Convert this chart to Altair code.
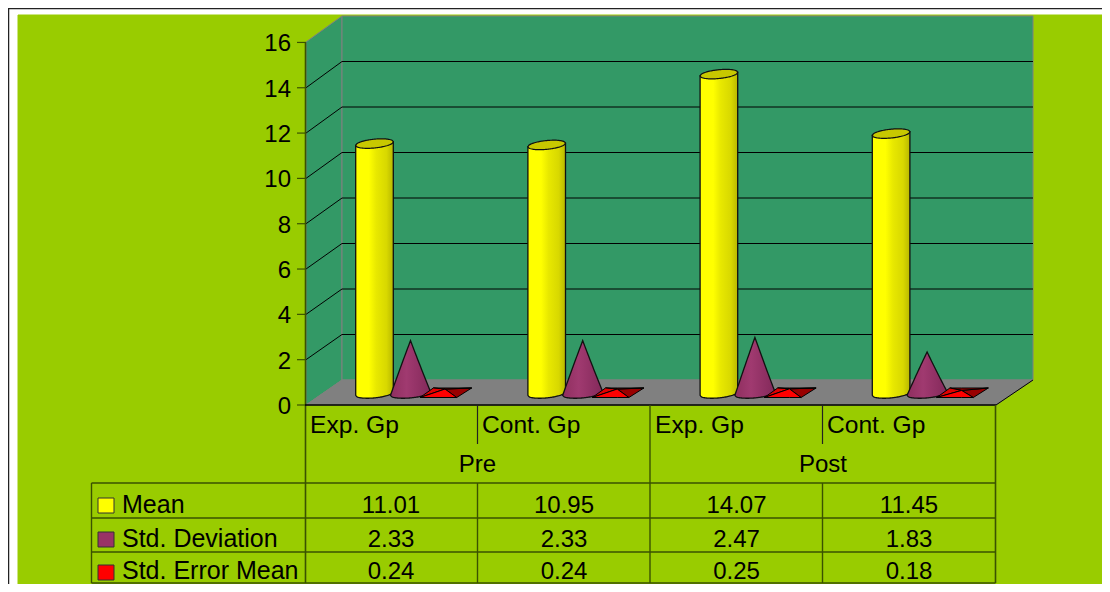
import altair as alt
import pandas as pd
import math

categories = ["Exp. Gp", "Cont. Gp", "Exp. Gp", "Cont. Gp"]
groups = ["Pre", "Post"]
mean = [11.01, 10.95, 14.07, 11.45]
std_dev = [2.33, 2.33, 2.47, 1.83]
std_err = [0.24, 0.24, 0.25, 0.18]
y_ticks = [0, 2, 4, 6, 8, 10, 12, 14, 16]
series_names = ["Mean", "Std. Deviation", "Std. Error Mean"]
series_colors = ["#FFFF00", "#993366", "#FF0000"]

GREEN, WALL, GRAY = "#99CC00", "#339966", "#808080"
TL = "#3a5200"
FONT = "Liberation Sans"
W, H = 1094, 576
XU, YU, X0, Y0 = 172.2, 22.7, 374.5, 393.5


def fx(p):
    return (p - X0) / XU


def fy(p):
    return (Y0 - p) / YU


xs = alt.Scale(domain=[fx(8), fx(8 + W)], nice=False, zero=False)
ys = alt.Scale(domain=[fy(8 + H), fy(8)], nice=False, zero=False)
X = alt.X("x:Q", scale=xs, axis=None)
Y = alt.Y("y:Q", scale=ys, axis=None, stack=None)
Y2 = alt.Y2("y2:Q")


def poly(pid, pts, fill, stroke, unit=False):
    """Convex polygon as area rows; pts in screen px, or chart units when unit=True."""
    if not unit:
        pts = [(fx(a), fy(b)) for a, b in pts]
    rows = []
    for vx in sorted({p[0] for p in pts}):
        hits = []
        for i in range(len(pts)):
            a, b = pts[i], pts[(i + 1) % len(pts)]
            lo, hi = min(a[0], b[0]), max(a[0], b[0])
            if lo <= vx <= hi:
                if a[0] == b[0]:
                    hits += [a[1], b[1]]
                else:
                    hits.append(a[1] + (b[1] - a[1]) * (vx - a[0]) / (b[0] - a[0]))
        rows.append(dict(id=pid, x=vx, y=max(hits), y2=min(hits), fill=fill, stroke=stroke))
    return rows


def poly_layer(rows, sw=1.0):
    return alt.Chart(pd.DataFrame(rows)).mark_area(strokeWidth=sw, interpolate="linear").encode(
        X, Y, Y2,
        color=alt.Color("fill:N", scale=None),
        stroke=alt.Stroke("stroke:N", scale=None),
        detail="id:N",
    )


def seg(x1, y1, x2, y2, c="#000000", w=1.0):
    return dict(x=fx(x1), x2=fx(x2), y=fy(y1), y2=fy(y2), c=c, w=w)


def txt(px, py, s):
    return dict(x=fx(px), y=fy(py), t=s)


def text_layer(rows, align, size=24):
    return alt.Chart(pd.DataFrame(rows)).mark_text(
        font=FONT, fontSize=size, align=align, baseline="alphabetic", color="#000000"
    ).encode(X, alt.Y("y:Q", scale=ys, axis=None), text="t:N")


# --- background, walls, floor
RIGHT = 8 + W
bg = []
bg += poly("green", [(18, 15), (RIGHT, 15), (RIGHT, 584), (18, 584)], GREEN, GREEN)
bg += poly("side", [(306, 42), (342, 16), (342, 380), (306, 405)], WALL, GRAY)
bg += poly("back", [(342, 16), (1033, 16), (1033, 380), (342, 380)], WALL, GRAY)
bg += poly("floor", [(306, 405), (342, 380), (1033, 380), (996, 405)], GRAY, GRAY)

lines = [
    seg(7.5, 8.5, RIGHT, 8.5, "#222222", 1.5),
    seg(8.5, 8, 8.5, 8 + H, "#222222", 1.5),
]
for v in y_ticks:
    front = 405 - v * 22.66
    back = 380 - v * 22.75
    lines.append(seg(297, front, 306, front, TL, 1.2))
    if 0 < v < 16:
        lines.append(seg(306, front, 342, back))
        lines.append(seg(342, back, 1033, back))
lines.append(seg(996, 405, 1033, 380))
lines.append(seg(305.5, 42, 305.5, 583, TL, 1.6))
lines.append(seg(305, 405, 996, 405, "#000000", 1.4))
for px in (477.5, 822.5):
    lines.append(seg(px, 405, px, 444, "#222222", 1.2))
    lines.append(seg(px, 483, px, 583, TL, 1.4))
lines.append(seg(650, 405, 650, 583, TL, 1.4))
lines.append(seg(995.5, 405, 995.5, 583, TL, 1.6))
lines.append(seg(91.5, 483, 91.5, 583, TL, 1.4))
for py in (483, 518, 552, 583):
    lines.append(seg(91.5, py, 995.5, py, TL, 1.6))

rule_layer = alt.Chart(pd.DataFrame(lines)).mark_rule().encode(
    X, alt.X2("x2:Q"), alt.Y("y:Q", scale=ys, axis=None), Y2,
    color=alt.Color("c:N", scale=None),
    size=alt.Size("w:Q", scale=None),
)

# --- 3-D marks built from the series
A_CYL, B_CYL, TILT = 18.8, 4.4, 1.8
A_CONE, B_CONE = 20.0, 4.4
N = 40
body, tops, cones = [], [], []
for i, (m, s) in enumerate(zip(mean, std_dev)):
    for k in range(N + 1):
        t = -1 + 2 * k / N
        sag = math.sqrt(max(0.0, 1 - t * t))
        # cylinder
        x = i + t * A_CYL / XU
        tilt = TILT * t / YU
        body.append(dict(id=i, x=x, y=m + tilt, y2=tilt - B_CYL * sag / YU))
        tops.append(dict(id=i, x=x, y=m + tilt + B_CYL * sag / YU, y2=m + tilt - B_CYL * sag / YU))
        # cone
        x = i + (36 + t * A_CONE) / XU
        edge = TILT * t / YU
        cones.append(dict(id=i, x=x, y=s * (1 - abs(t)) + edge * abs(t), y2=edge - B_CONE * sag / YU))

cyl_grad = alt.Gradient(
    gradient="linear", x1=0, x2=1, y1=0, y2=0,
    stops=[
        alt.GradientStop(offset=0, color="#FFFF00"),
        alt.GradientStop(offset=0.35, color="#FFFF00"),
        alt.GradientStop(offset=0.55, color="#E8E800"),
        alt.GradientStop(offset=0.82, color="#D8D800"),
        alt.GradientStop(offset=1, color="#B8B800"),
    ],
)
cone_grad = alt.Gradient(
    gradient="linear", x1=0, x2=1, y1=0, y2=0,
    stops=[
        alt.GradientStop(offset=0, color="#8F2F5F"),
        alt.GradientStop(offset=0.4, color="#A03A70"),
        alt.GradientStop(offset=1, color="#83295A"),
    ],
)
body_layer = alt.Chart(pd.DataFrame(body)).mark_area(
    fill=cyl_grad, stroke="#111111", strokeWidth=1.3
).encode(X, Y, Y2, detail="id:N")
top_layer = alt.Chart(pd.DataFrame(tops)).mark_area(
    fill="#C8C800", stroke="#111111", strokeWidth=1.2
).encode(X, Y, Y2, detail="id:N")
cone_layer = alt.Chart(pd.DataFrame(cones)).mark_area(
    fill=cone_grad, stroke="#111111", strokeWidth=1.3
).encode(X, Y, Y2, detail="id:N")

pyr = []
for i, e in enumerate(std_err):
    cx = i + 71.5 / XU
    u = lambda dx: cx + dx / XU
    v = lambda dy: -dy / YU
    apex = (u(-1), e - 1 / YU)
    fl, fr = (u(-26), v(4)), (u(10.7), v(4))
    br, bl = (u(25.7), v(-5.5)), (u(-12.7), v(-5.5))
    pyr += poly(f"{i}r", [fr, br, apex], "#990000", "#000000", unit=True)
    pyr += poly(f"{i}b", [apex, bl, br], "#990000", "#000000", unit=True)
    pyr += poly(f"{i}l", [fl, bl, apex], "#E00000", "#000000", unit=True)
    pyr += poly(f"{i}f", [fl, fr, apex], "#FF0000", "#000000", unit=True)

# --- legend keys
keys = []
for n, (py, c) in enumerate(zip((498, 532, 565), series_colors)):
    keys += poly(f"k{n}", [(98, py), (114, py), (114, py + 15), (98, py + 15)], c, "#333333")

# --- text
names, left, center, right = [], [], [], []
for v in y_ticks:
    right.append(txt(291, 405 - v * 22.66 + 9, str(v)))
cols = [391, 564, 736.5, 909]
for px, c in zip((310, 482, 655, 827), categories):
    left.append(txt(px, 433, c))
for px, g in zip((477.5, 823), groups):
    center.append(txt(px, 472, g))
for py, name, vals in zip((513, 547, 578.5), series_names, (mean, std_dev, std_err)):
    names.append(txt(122, py, name))
    for cx, val in zip(cols, vals):
        center.append(txt(cx, py, f"{val:.2f}"))

chart = alt.layer(
    poly_layer(bg),
    rule_layer,
    body_layer,
    top_layer,
    cone_layer,
    poly_layer(pyr),
    poly_layer(keys),
    text_layer(names, "left", 25),
    text_layer(left, "left", 24.6),
    text_layer(center, "center"),
    text_layer(right, "right"),
).properties(
    width=W, height=H, padding=0, background="#FFFFFF",
    autosize=alt.AutoSizeParams(type="none"),
).configure_view(stroke=None)

chart.save("out.html", embed_options={"renderer": "svg", "actions": False})
